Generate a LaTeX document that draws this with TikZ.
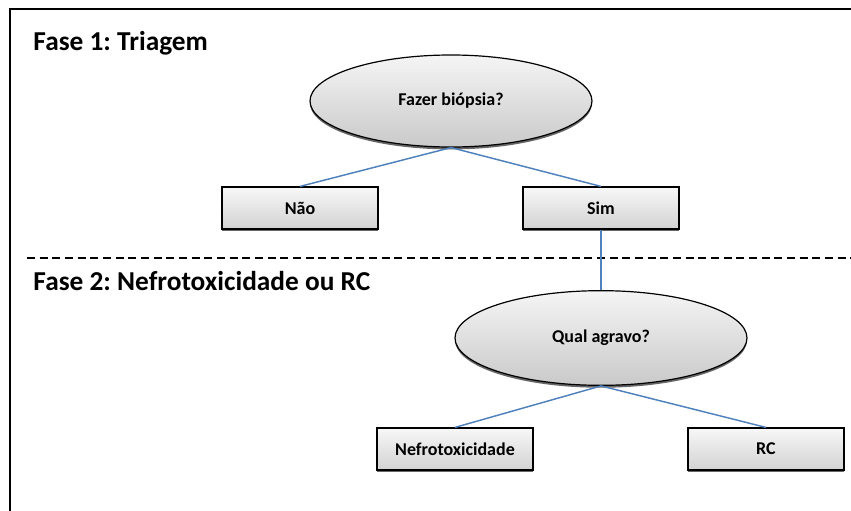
\documentclass[tikz,border=0pt]{standalone}
\usepackage{fontspec}
\setmainfont{Carlito}
\usetikzlibrary{shapes.geometric,shadows}
\frenchspacing

\tikzset{every picture/.style={line width=0.75pt}}
\tikzset{
  pergunta/.style={ellipse, draw, line width=0.9pt, top color=gray!8, bottom color=gray!42,
    drop shadow={shadow xshift=0pt, shadow yshift=-1.8pt, opacity=0.8, fill=black!75},
    font=\fontsize{13.5}{16}\selectfont\bfseries},
  resposta/.style={rectangle, draw, line width=0.9pt, top color=gray!6, bottom color=gray!35,
    minimum width=117pt, minimum height=31.5pt,
    drop shadow={shadow xshift=0pt, shadow yshift=-1.8pt, opacity=0.8, fill=black!75},
    font=\fontsize{13.5}{16}\selectfont\bfseries},
  ligacao/.style={color={rgb, 255:red, 79; green, 129; blue, 189 }, line width=1.1pt},
  fase/.style={anchor=west, inner sep=0.75pt, font=\fontsize{20.5}{24}\selectfont\bfseries}
}

\begin{document}
\begin{tikzpicture}[x=0.75pt,y=0.75pt,yscale=-1,xscale=1]
\useasboundingbox (0,0) rectangle (851,511);

%Straight Lines: frame
\draw [line width=1.7]    (10,511) -- (10,9) -- (851,9) ;
%Straight Lines: dashed separator
\draw [line width=1.5, dash pattern=on 6 off 3.5]    (27,258) -- (851,258) ;

% Text Node
\draw (32,43) node [fase] (fase1) {Fase 1: Triagem};
% Text Node
\draw (32,281) node [fase] (fase2) {Fase 2: Nefrotoxicidade ou RC};

%Shape: Ellipse
\node [pergunta, minimum width=211.5pt, minimum height=69pt] (biopsia) at (451,101) {Fazer biópsia?};
%Shape: Rectangle
\node [resposta] (nao) at (300,208) {Não};
%Shape: Rectangle
\node [resposta] (sim) at (601,208) {Sim};

%Shape: Ellipse
\node [pergunta, minimum width=219pt, minimum height=71pt] (agravo) at (601,338) {Qual agravo?};
%Shape: Rectangle
\node [resposta] (nefro) at (455,449) {Nefrotoxicidade};
%Shape: Rectangle
\node [resposta] (rc) at (766,449) {RC};

%Straight Lines
\draw [ligacao]   (biopsia.south) -- (nao.north) ;
\draw [ligacao]   (biopsia.south) -- (sim.north) ;
\draw [ligacao]   (sim.south) -- (agravo.north) ;
\draw [ligacao]   (agravo.south) -- (nefro.north) ;
\draw [ligacao]   (agravo.south) -- (rc.north) ;

\end{tikzpicture}
\end{document}
